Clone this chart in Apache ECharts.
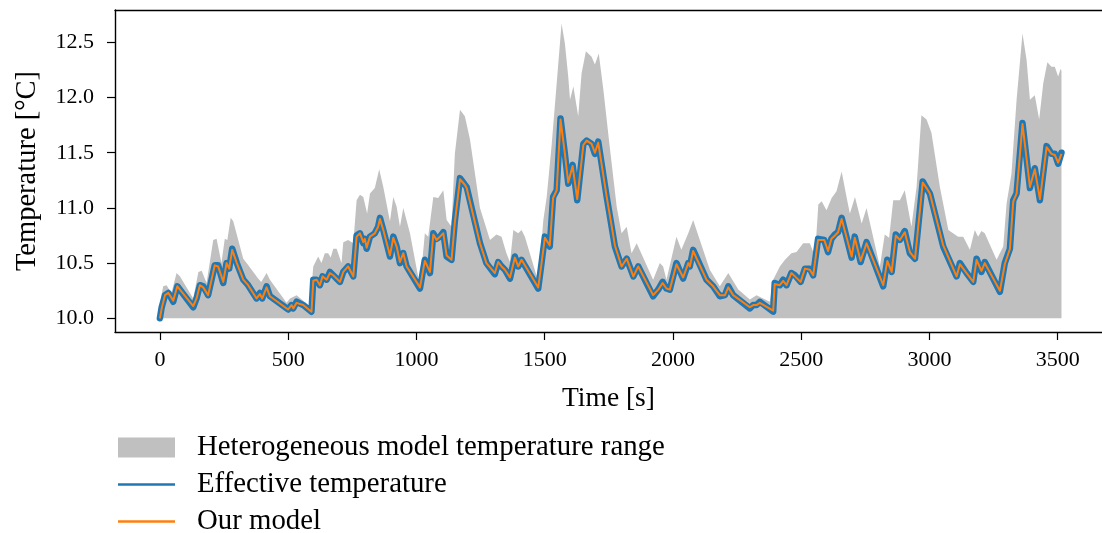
<!DOCTYPE html>
<html>
<head>
<meta charset="utf-8">
<script src="https://cdn.jsdelivr.net/npm/echarts@6/dist/echarts.min.js"></script>
<style>
  html, body { margin: 0; padding: 0; background: #fff; }
  #chart { width: 1102px; height: 533px; }
</style>
</head>
<body>
<div id="chart"></div>
<script>
// ---- data ----
const xTicks = [0, 500, 1000, 1500, 2000, 2500, 3000, 3500];
const yTicks = [10.0, 10.5, 11.0, 11.5, 12.0, 12.5];

const seriesNames = ['Heterogeneous model temperature range', 'Effective temperature', 'Our model'];

// upper bound of heterogeneous model range (lower bound is 10.0)
const rangeTime = [0,7,13,26,45,65,78,130,150,163,182,208,221,240,253,263,276,286,325,338,383,395,416,429,494,507,533,559,585,598,617,630,643,656,666,676,689,708,715,734,754,767,780,793,799,808,819,838,855,871,897,910,923,936,949,975,1014,1033,1046,1066,1085,1105,1118,1137,1150,1170,1189,1209,1248,1287,1312,1332,1351,1365,1378,1397,1410,1423,1469,1482,1495,1508,1527,1547,1566,1579,1592,1599,1612,1631,1644,1661,1683,1696,1711,1729,1755,1781,1800,1820,1839,1859,1923,1949,1962,1975,2014,2033,2060,2079,2105,2144,2183,2216,2255,2300,2326,2378,2391,2417,2437,2462,2482,2508,2534,2554,2567,2580,2599,2619,2638,2658,2677,2690,2710,2736,2755,2807,2826,2843,2859,2885,2904,2930,2950,2969,2989,3008,3041,3074,3112,3132,3158,3177,3190,3203,3216,3262,3288,3301,3320,3340,3363,3379,3392,3411,3428,3444,3460,3476,3489,3502,3512,3515];
const rangeUpper = [10.03,10.22,10.29,10.30,10.23,10.41,10.38,10.18,10.42,10.43,10.32,10.71,10.72,10.50,10.72,10.71,10.91,10.88,10.54,10.50,10.36,10.33,10.41,10.35,10.14,10.18,10.21,10.16,10.10,10.47,10.56,10.50,10.59,10.59,10.55,10.63,10.63,10.50,10.69,10.71,10.68,11.07,11.12,11.10,11.11,10.95,11.13,11.18,11.35,11.19,10.88,11.10,11.01,10.83,11.00,10.77,10.29,10.77,10.74,11.10,11.09,11.16,10.89,10.83,11.49,11.89,11.83,11.62,11.00,10.71,10.76,10.74,10.59,10.51,10.80,10.77,10.80,10.74,10.38,10.53,10.89,11.10,11.56,12.13,12.67,12.49,12.19,11.98,12.10,11.83,12.22,12.42,12.37,12.30,12.40,12.07,11.53,11.01,10.77,10.83,10.59,10.68,10.35,10.50,10.47,10.35,10.74,10.62,10.77,10.89,10.71,10.44,10.29,10.41,10.26,10.17,10.21,10.15,10.35,10.47,10.53,10.59,10.60,10.68,10.68,10.56,11.03,11.06,10.98,11.09,11.15,11.33,11.10,10.95,11.10,10.86,11.00,10.47,10.76,10.73,11.07,11.07,11.16,10.83,11.19,11.84,11.80,11.68,11.19,10.80,10.74,10.74,10.62,10.80,10.74,10.79,10.77,10.53,10.65,11.04,11.31,11.98,12.58,12.34,11.98,12.02,11.80,12.13,12.32,12.28,12.28,12.19,12.26,12.24];
const rangeLower = 10.0;

// effective temperature (blue) and our model (orange)
const effTime = [0,7,20,33,52,68,130,143,156,169,188,214,227,247,260,270,282,300,325,344,377,390,399,416,429,500,513,520,533,559,591,598,611,624,634,650,663,676,689,702,715,734,754,767,780,793,799,806,819,838,851,858,871,897,910,923,936,949,962,1014,1033,1053,1066,1079,1092,1105,1118,1137,1150,1170,1189,1196,1248,1273,1306,1319,1332,1345,1365,1384,1397,1410,1475,1488,1501,1520,1533,1547,1562,1579,1592,1609,1627,1651,1664,1683,1696,1709,1742,1774,1800,1820,1846,1865,1923,1943,1960,1975,1988,2014,2040,2060,2066,2079,2131,2157,2183,2203,2216,2235,2300,2313,2326,2339,2391,2397,2417,2430,2443,2462,2476,2498,2515,2534,2547,2566,2590,2605,2618,2632,2644,2658,2697,2709,2732,2755,2820,2836,2853,2869,2885,2904,2924,2944,2974,2989,3002,3054,3106,3119,3145,3171,3184,3203,3216,3275,3294,3314,3327,3340,3363,3392,3411,3431,3457,3476,3489,3502,3515];
const effTemp = [10.00,10.10,10.21,10.23,10.15,10.29,10.10,10.18,10.30,10.29,10.21,10.48,10.48,10.32,10.50,10.45,10.63,10.50,10.35,10.30,10.18,10.23,10.18,10.29,10.20,10.08,10.12,10.09,10.15,10.12,10.06,10.35,10.35,10.30,10.38,10.35,10.42,10.39,10.36,10.33,10.42,10.47,10.38,10.75,10.77,10.68,10.72,10.63,10.74,10.77,10.83,10.91,10.80,10.56,10.74,10.65,10.50,10.59,10.47,10.27,10.53,10.41,10.77,10.72,10.74,10.78,10.56,10.53,10.88,11.27,11.21,11.19,10.68,10.50,10.40,10.51,10.47,10.44,10.36,10.56,10.47,10.53,10.27,10.50,10.74,10.65,11.10,11.16,11.81,11.49,11.22,11.39,11.07,11.58,11.61,11.58,11.49,11.60,11.10,10.65,10.47,10.54,10.38,10.47,10.20,10.26,10.33,10.27,10.26,10.50,10.36,10.50,10.47,10.62,10.35,10.29,10.20,10.21,10.29,10.21,10.09,10.12,10.12,10.15,10.06,10.32,10.30,10.35,10.30,10.41,10.39,10.33,10.45,10.45,10.39,10.72,10.71,10.60,10.72,10.76,10.78,10.91,10.55,10.74,10.51,10.69,10.29,10.53,10.42,10.76,10.71,10.79,10.59,10.54,11.24,11.18,11.13,10.65,10.38,10.50,10.41,10.33,10.54,10.42,10.51,10.24,10.50,10.63,11.07,11.13,11.77,11.18,11.36,11.07,11.56,11.49,11.49,11.40,11.50];
const modelTemp = [10.00,10.09,10.21,10.23,10.16,10.29,10.11,10.18,10.30,10.28,10.21,10.48,10.47,10.33,10.50,10.45,10.62,10.50,10.35,10.30,10.18,10.22,10.18,10.28,10.20,10.08,10.12,10.09,10.14,10.12,10.06,10.34,10.35,10.30,10.38,10.35,10.41,10.39,10.36,10.33,10.42,10.47,10.38,10.74,10.77,10.69,10.72,10.64,10.74,10.77,10.83,10.90,10.80,10.57,10.73,10.65,10.51,10.59,10.47,10.28,10.52,10.42,10.76,10.71,10.74,10.77,10.57,10.53,10.87,11.26,11.21,11.18,10.68,10.50,10.41,10.51,10.47,10.44,10.37,10.55,10.47,10.53,10.28,10.50,10.73,10.66,11.09,11.16,11.80,11.49,11.23,11.38,11.08,11.57,11.61,11.58,11.50,11.59,11.10,10.66,10.47,10.54,10.38,10.47,10.21,10.26,10.32,10.27,10.26,10.49,10.37,10.50,10.47,10.61,10.35,10.29,10.21,10.21,10.28,10.21,10.10,10.12,10.12,10.14,10.07,10.31,10.30,10.34,10.30,10.41,10.38,10.33,10.45,10.44,10.39,10.71,10.71,10.61,10.72,10.75,10.78,10.90,10.56,10.73,10.52,10.68,10.30,10.52,10.42,10.75,10.71,10.78,10.60,10.54,11.23,11.18,11.13,10.66,10.38,10.49,10.41,10.33,10.53,10.43,10.50,10.25,10.49,10.63,11.06,11.13,11.76,11.19,11.35,11.08,11.55,11.49,11.48,11.41,11.49];

// ---- build pairs ----
const pairs = (xs, ys) => xs.map((x, i) => [x, ys[i]]);

const FONT = 'Liberation Serif';
const X_MIN = -175, X_MAX = 3673;
const chart = echarts.init(document.getElementById('chart'), null, { renderer: 'canvas' });

chart.setOption({
  animation: false,
  backgroundColor: '#ffffff',
  textStyle: { fontFamily: FONT, color: '#000' },
  grid: { left: 115, top: 10, right: 0, height: 322, show: false },
  xAxis: [{
    type: 'value',
    min: X_MIN, max: X_MAX,
    name: 'Time [s]',
    nameLocation: 'middle',
    nameGap: 53,
    nameTextStyle: { fontFamily: FONT, fontSize: 27.5, color: '#000' },
    axisLine: { show: true, onZero: false, lineStyle: { color: '#000', width: 1.4 } },
    axisTick: { show: true, length: 8, customValues: xTicks, lineStyle: { color: '#000', width: 1.2 } },
    axisLabel: { customValues: xTicks, fontFamily: FONT, fontSize: 22, color: '#000', margin: 17,
      formatter: v => String(v) },
    splitLine: { show: false }
  }, {
    type: 'value',
    position: 'top',
    min: X_MIN, max: X_MAX,
    axisLine: { show: true, onZero: false, lineStyle: { color: '#000', width: 1.4 } },
    axisTick: { show: false },
    axisLabel: { show: false },
    splitLine: { show: false }
  }],
  yAxis: {
    type: 'value',
    min: 9.876, max: 12.793,
    name: 'Temperature [°C]',
    nameLocation: 'middle',
    nameGap: 73,
    nameTextStyle: { fontFamily: FONT, fontSize: 28.5, color: '#000' },
    axisLine: { show: true, onZero: false, lineStyle: { color: '#000', width: 1.4 } },
    axisTick: { show: true, length: 8, customValues: yTicks, lineStyle: { color: '#000', width: 1.2 } },
    axisLabel: {
      customValues: yTicks, fontFamily: FONT, fontSize: 22, color: '#000', margin: 21,
      formatter: v => Number(v).toFixed(1)
    },
    splitLine: { show: false }
  },
  legend: {
    orient: 'vertical',
    left: 118, top: 433,
    width: 700, height: 140,
    padding: 0,
    itemWidth: 57, itemHeight: 20, itemGap: 8,
    itemStyle: { borderWidth: 0 },
    textStyle: { fontFamily: FONT, fontSize: 28.8, color: '#000', padding: [0, 0, 0, 17] },
    data: [
      { name: seriesNames[0], icon: 'rect' },
      { name: seriesNames[1], icon: 'path://M0,0H57V2.5H0Z' },
      { name: seriesNames[2], icon: 'path://M0,0H57V2.5H0Z' }
    ]
  },
  series: [
    {
      name: seriesNames[0],
      type: 'line',
      data: pairs(rangeTime, rangeUpper),
      color: '#c0c0c0',
      symbol: 'none', showSymbol: false,
      lineStyle: { width: 0, color: '#c0c0c0' },
      areaStyle: { color: '#c0c0c0', opacity: 1, origin: rangeLower },
      z: 1
    },
    {
      name: seriesNames[1],
      type: 'line',
      data: pairs(effTime, effTemp),
      color: '#1f77b4',
      symbol: 'none', showSymbol: false,
      lineStyle: { width: 6.5, color: '#1f77b4', cap: 'round', join: 'round' },
      z: 2
    },
    {
      name: seriesNames[2],
      type: 'line',
      data: pairs(effTime, modelTemp),
      color: '#ff7f0e',
      symbol: 'none', showSymbol: false,
      lineStyle: { width: 2, color: '#ff7f0e', join: 'round' },
      z: 3
    }
  ]
});
</script>
</body>
</html>
